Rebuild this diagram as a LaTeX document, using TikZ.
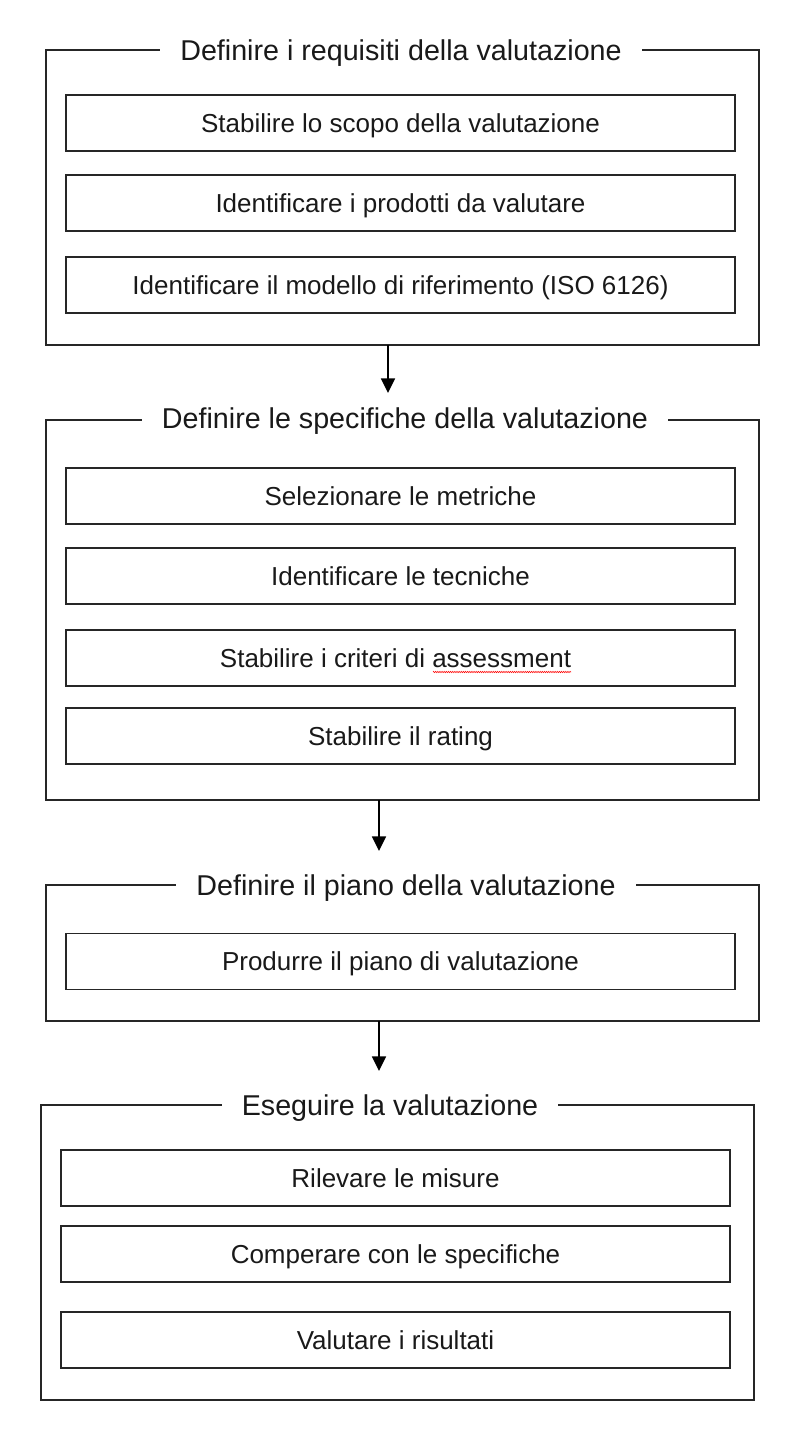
\documentclass[tikz,border=0pt]{standalone}
\usepackage{fontspec}
\setmainfont{Liberation Sans}
\usetikzlibrary{arrows.meta,decorations.pathmorphing}
\begin{document}
\begin{tikzpicture}[x=0.75pt,y=-0.75pt,
  outerbox/.style={draw=black!85,line width=1.1pt},
  innerbox/.style={draw=black!85,line width=1.1pt,minimum width=502pt,minimum height=42pt,inner sep=0pt,text height=14pt,text depth=0pt,text=black!90,font=\fontsize{19.5pt}{23pt}\selectfont},
  titlenode/.style={fill=white,inner xsep=15pt,inner ysep=2pt,text height=15.4pt,text depth=0pt,text=black!90,font=\fontsize{21.5pt}{25pt}\selectfont},
  flow/.style={line width=1.3pt,-{Triangle[length=11pt,width=10.5pt]}},
  squiggle/.style={red,line width=0.4pt,decorate,decoration={zigzag,segment length=1.6pt,amplitude=0.5pt}}]
\useasboundingbox (0,0) rectangle (800,1434);
% group 1
\draw[outerbox] (46,50) rectangle (759,345);
\node[titlenode] (t1) at (401,50) {Definire i requisiti della valutazione};
\node[innerbox] (a1) at (400.5,123) {Stabilire lo scopo della valutazione};
\node[innerbox] (a2) at (400.5,203) {Identificare i prodotti da valutare};
\node[innerbox] (a3) at (400.5,285) {Identificare il modello di riferimento (ISO 6126)};
\coordinate (g1b) at (388,345);
\coordinate (g2t) at (388,393);
\draw[flow] (g1b) -- (g2t);
% group 2
\draw[outerbox] (46,420) rectangle (759,800);
\node[titlenode] (t2) at (405,418) {Definire le specifiche della valutazione};
\node[innerbox] (b1) at (400.5,496) {Selezionare le metriche};
\node[innerbox] (b2) at (400.5,576) {Identificare le tecniche};
\node[innerbox] (b3) at (400.5,658) {};
\node[text height=14pt,text depth=0pt,text=black!90,font=\fontsize{19.5pt}{23pt}\selectfont,inner sep=0pt] (b3t) at (395.5,658) {Stabilire i criteri di assessment};
\node[innerbox] (b4) at (400.5,736) {Stabilire il rating};
\coordinate (sq1) at (433,672);
\coordinate (sq2) at (571,672);
\draw[squiggle] (sq1) -- (sq2);
\coordinate (g2b) at (379,800);
\coordinate (g3t) at (379,851);
\draw[flow] (g2b) -- (g3t);
% group 3
\draw[outerbox] (46,885) rectangle (759,1021);
\node[titlenode] (t3) at (406,885) {Definire il piano della valutazione};
\node[innerbox] (c1) at (400.5,961.5) {Produrre il piano di valutazione};
\coordinate (g3b) at (379,1021);
\coordinate (g4t) at (379,1071);
\draw[flow] (g3b) -- (g4t);
% group 4
\draw[outerbox] (41,1105) rectangle (754,1400);
\node[titlenode] (t4) at (390,1105) {Eseguire la valutazione};
\node[innerbox] (d1) at (395.5,1178) {Rilevare le misure};
\node[innerbox] (d2) at (395.5,1254) {Comperare con le specifiche};
\node[innerbox] (d3) at (395.5,1340) {Valutare i risultati};
\end{tikzpicture}
\end{document}
